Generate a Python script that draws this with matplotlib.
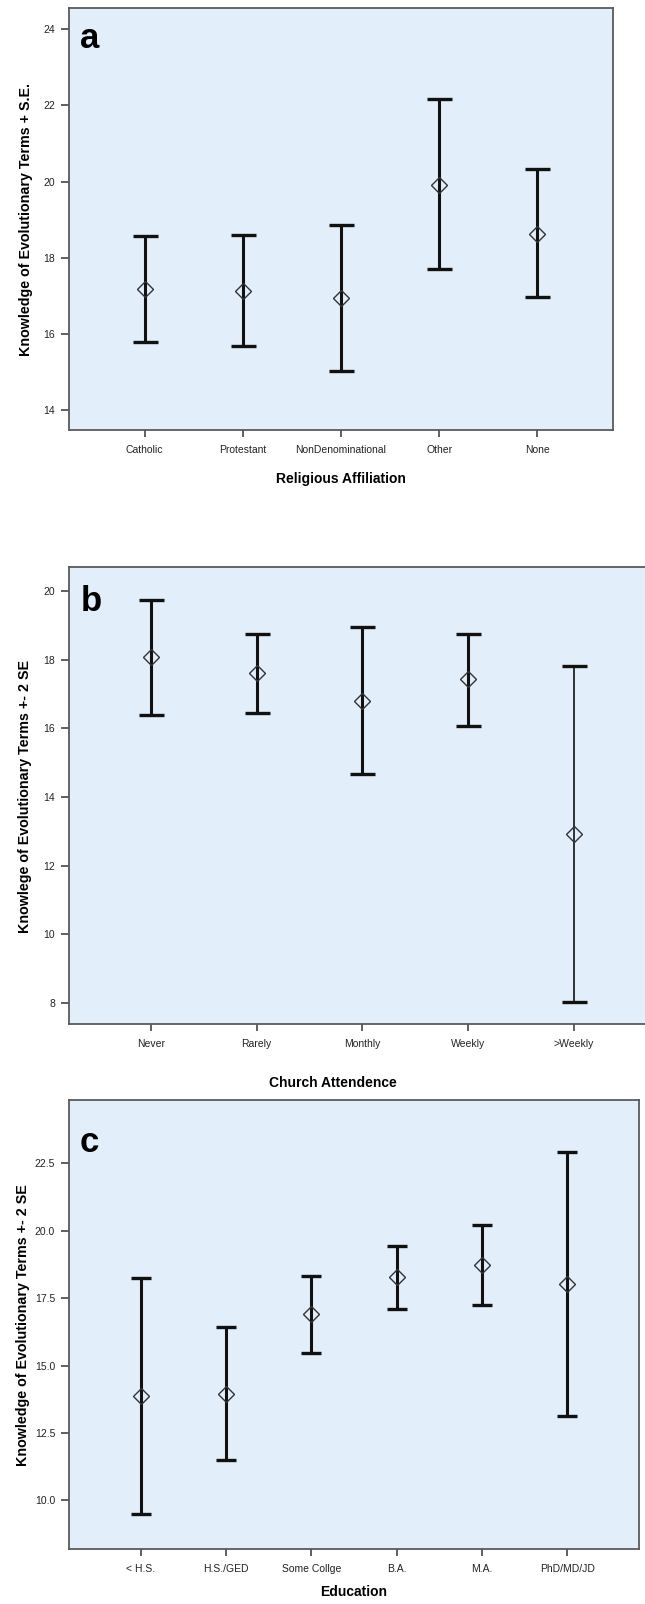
import matplotlib
matplotlib.use('Agg')
import matplotlib.pyplot as plt
from matplotlib.ticker import FormatStrFormatter

# ---------------------------- data ----------------------------
relig_cats = ['Catholic', 'Protestant', 'NonDenominational', 'Other', 'None']
relig_mean = [17.18, 17.13, 16.94, 19.91, 18.62]
relig_low = [15.79, 15.67, 15.03, 17.70, 16.96]
relig_high = [18.58, 18.60, 18.87, 22.16, 20.32]

church_cats = ['Never', 'Rarely', 'Monthly', 'Weekly', '>Weekly']
church_mean = [18.08, 17.63, 16.81, 17.43, 12.91]
church_low = [16.40, 16.46, 14.66, 16.06, 8.03]
church_high = [19.74, 18.77, 18.97, 18.77, 17.82]

edu_cats = ['< H.S.', 'H.S./GED', 'Some Collge', 'B.A.', 'M.A.', 'PhD/MD/JD']
edu_mean = [13.88, 13.93, 16.92, 18.27, 18.73, 18.01]
edu_low = [9.50, 11.51, 15.48, 17.09, 17.25, 13.12]
edu_high = [18.26, 16.41, 18.33, 19.42, 20.20, 22.92]

a_yticks = [14, 16, 18, 20, 22, 24]
b_yticks = [8, 10, 12, 14, 16, 18, 20]
c_yticks = [10.0, 12.5, 15.0, 17.5, 20.0, 22.5]

# ---------------------------- style ----------------------------
plt.rcParams['font.family'] = ['Liberation Sans', 'DejaVu Sans']
TICKFONT = ['Liberation Sans Narrow', 'Liberation Sans', 'DejaVu Sans']
BG = '#E2EEFA'
W, H = 645, 1604

fig = plt.figure(figsize=(W / 100, H / 100), dpi=100)
fig.patch.set_facecolor('white')


def rect(l, t, r, b):
    return [l / W, 1 - b / H, (r - l) / W, (b - t) / H]


def panel(box, cats, mean, low, high, yticks, ylim, xmargin, capsize, fmt):
    ax = fig.add_axes(box)
    ax.set_facecolor(BG)
    x = list(range(1, len(cats) + 1))
    err = [[m - l for m, l in zip(mean, low)], [h - m for h, m in zip(high, mean)]]
    eb = ax.errorbar(x, mean, yerr=err, fmt='none', ecolor='#111111',
                     elinewidth=2.2, capsize=capsize, capthick=2.4, zorder=2)
    ax.plot(x, mean, 'D', ms=8, mfc='none', mec='#333333', mew=1.0, zorder=3)
    ax.set_xlim(1 - xmargin, len(cats) + xmargin)
    ax.set_ylim(*ylim)
    ax.set_xticks(x)
    ax.set_xticklabels(cats, family=TICKFONT, fontsize=7.5, color='#222222')
    ax.set_yticks(yticks)
    ax.yaxis.set_major_formatter(FormatStrFormatter(fmt))
    for lab in ax.get_yticklabels():
        lab.set_family(TICKFONT)
        lab.set_fontsize(7.5)
        lab.set_color('#222222')
    ax.tick_params(axis='x', length=5, width=1.2, color='#444444', pad=6)
    ax.tick_params(axis='y', length=6, width=1.2, color='#444444', pad=4)
    for s in ax.spines.values():
        s.set_color('#5a5a5a')
        s.set_linewidth(1.3)
    return ax, eb


ax_a, _ = panel(rect(69, 8, 613, 430), relig_cats, relig_mean, relig_low, relig_high,
                a_yticks, (13.47, 24.56), 0.77, 9, '%d')
ax_b, eb_b = panel(rect(69, 567, 656, 1024), church_cats, church_mean, church_low, church_high,
                   b_yticks, (7.38, 20.71), 0.775, 9, '%d')
eb_b[2][0].set_linewidths([2.2, 2.2, 2.2, 2.2, 1.2])  # >Weekly bar is drawn thinner
ax_c, _ = panel(rect(69, 1100, 639, 1549), edu_cats, edu_mean, edu_low, edu_high,
                c_yticks, (8.2, 24.84), 0.84, 7.5, '%.1f')

# panel letters
for lx, ly, s in [(80, 22, 'a'), (81, 585, 'b'), (80, 1126, 'c')]:
    fig.text(lx / W, 1 - ly / H, s, fontsize=25, fontweight='bold', ha='left', va='top')

# axis titles
fig.text(26 / W, 1 - 219 / H, 'Knowledge of Evolutionary Terms + S.E.', rotation=90,
         fontsize=10.3, fontweight='bold', ha='center', va='center')
fig.text(25 / W, 1 - 796 / H, 'Knowlege of Evolutionary Terms +- 2 SE', rotation=90,
         fontsize=10.3, fontweight='bold', ha='center', va='center')
fig.text(23 / W, 1 - 1325 / H, 'Knowledge of Evolutionary Terms +- 2 SE', rotation=90,
         fontsize=10.3, fontweight='bold', ha='center', va='center')

fig.text(341 / W, 1 - 479 / H, 'Religious Affiliation', fontsize=10, fontweight='bold',
         ha='center', va='center')
fig.text(333 / W, 1 - 1083 / H, 'Church Attendence', fontsize=10, fontweight='bold',
         ha='center', va='center')
fig.text(354 / W, 1 - 1592 / H, 'Education', fontsize=10, fontweight='bold',
         ha='center', va='center')

fig.savefig('out.png', dpi=100, facecolor='white')
